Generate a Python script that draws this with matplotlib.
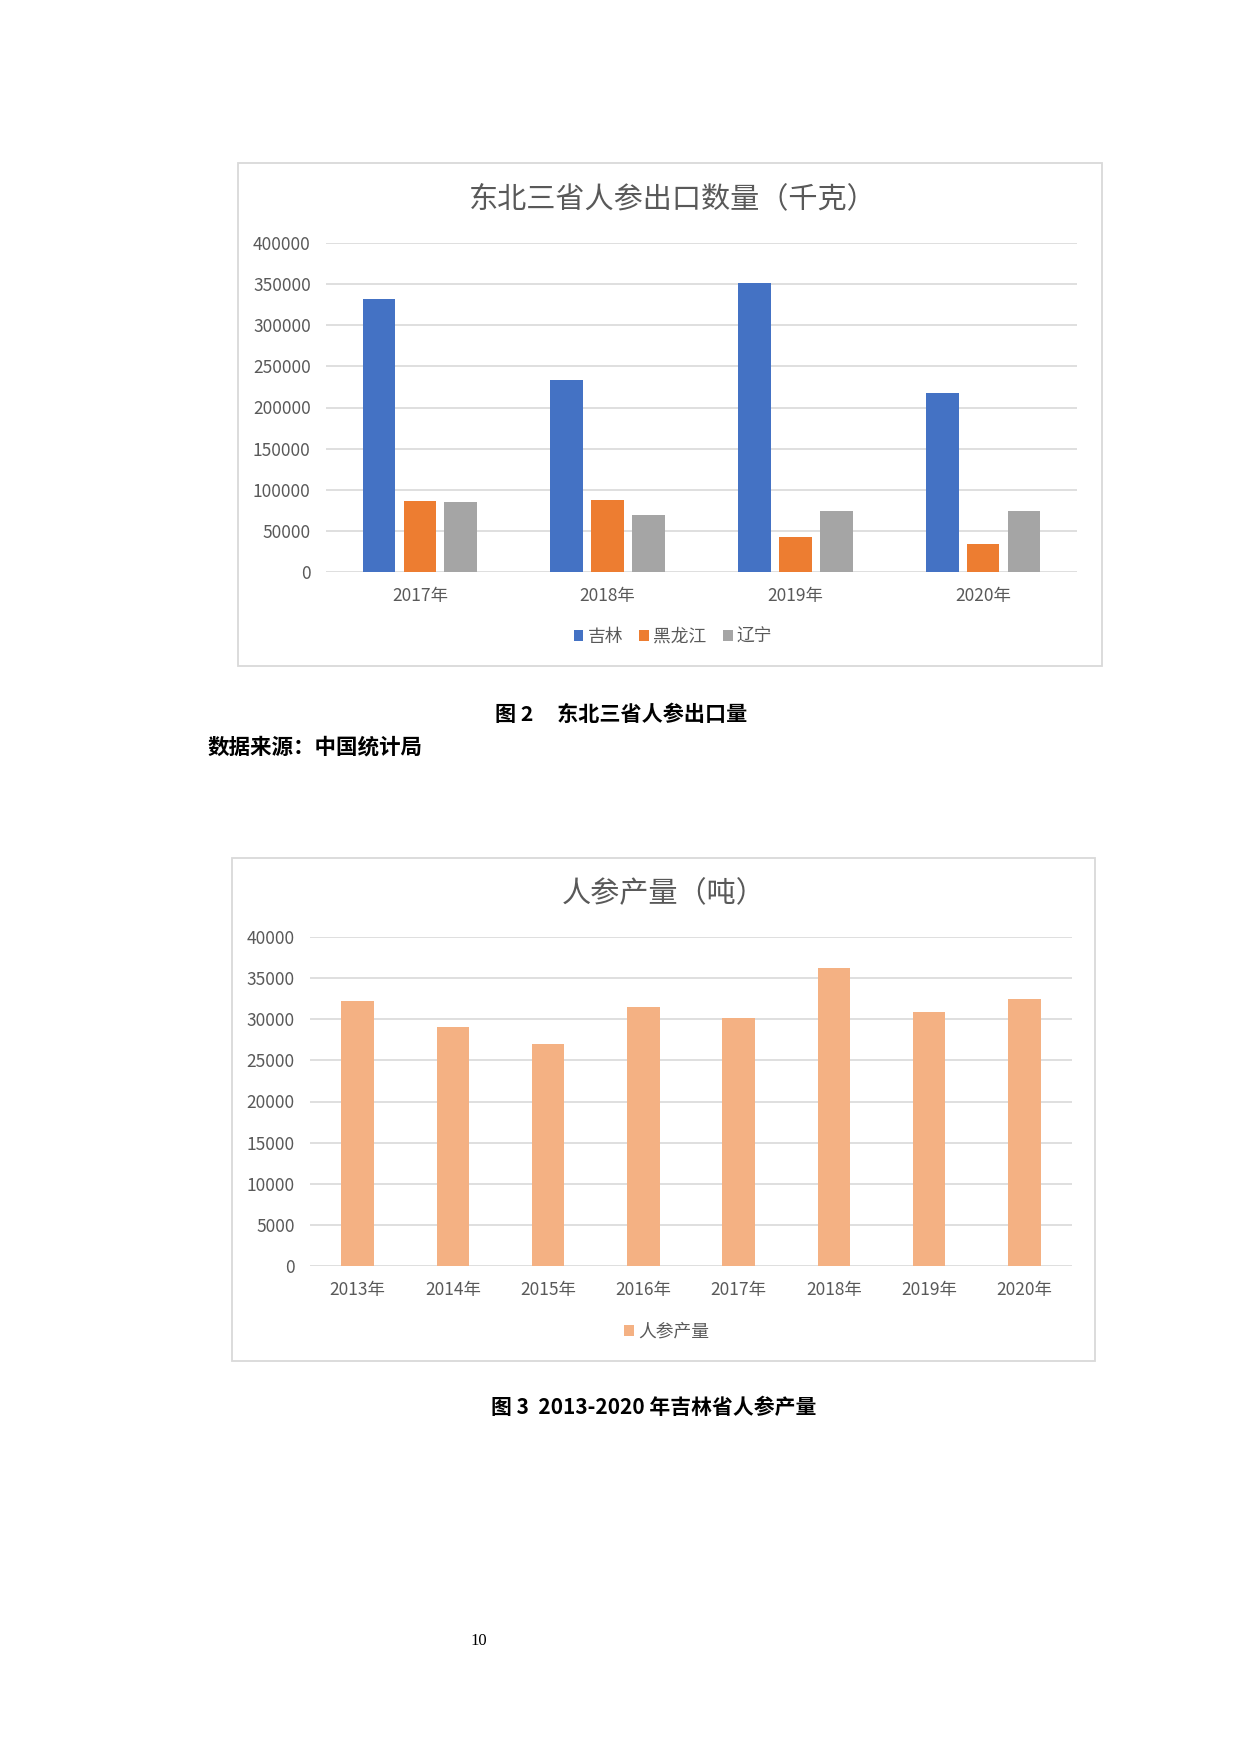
import matplotlib
matplotlib.use("Agg")
from matplotlib import pyplot as plt
from matplotlib.patches import Rectangle
import numpy as np

plt.rcParams['font.family'] = ['Noto Sans CJK SC', 'DejaVu Sans']

# chart 1 data: ginseng exports of the three north-east provinces (kg)
years_1 = ["2017年", "2018年", "2019年", "2020年"]
provinces = ["吉林", "黑龙江", "辽宁"]
jilin = [332000, 233000, 351000, 217500]
heilongjiang = [86000, 87000, 42000, 34000]
liaoning = [85000, 69000, 74000, 74000]
export_ticks = [0, 50000, 100000, 150000, 200000, 250000, 300000, 350000, 400000]

# chart 2 data: Jilin ginseng output (tonnes)
years_2 = ["2013年", "2014年", "2015年", "2016年", "2017年", "2018年", "2019年", "2020年"]
output = [32250, 29000, 27050, 31500, 30200, 36250, 30900, 32450]
output_ticks = [0, 5000, 10000, 15000, 20000, 25000, 30000, 35000, 40000]

W, H = 1240, 1754
fig = plt.figure(figsize=(12.4, 17.54), dpi=100)
text_color = "#595959"
grid_color = "#D9D9D9"


def fx(px):
    return px / W


def fy(py):
    return 1 - py / H


def chart_box(x0, y0, x1, y1):
    fig.add_artist(Rectangle((fx(x0), fy(y1)), fx(x1 - x0), (y1 - y0) / H,
                             transform=fig.transFigure, fill=False,
                             edgecolor=grid_color, linewidth=1.3))


def style_axes(ax, ticks):
    ax.set_ylim(ticks[0], ticks[-1])
    ax.set_yticks(ticks)
    ax.set_yticklabels([str(t) for t in ticks])
    for s in ax.spines.values():
        s.set_visible(False)
    ax.tick_params(axis="both", length=0, labelsize=12.5, colors=text_color)
    ax.tick_params(axis="y", pad=11)
    ax.tick_params(axis="x", pad=11)
    ax.yaxis.grid(True, color=grid_color, linewidth=1.2)
    ax.set_axisbelow(True)


# ---------- chart 1 ----------
chart_box(238, 163, 1102, 666)
ax1 = fig.add_axes([fx(326), fy(572), fx(1077 - 326), (572 - 243) / H])
x = np.arange(len(years_1))
w = 0.174
step = 0.218
colors_1 = ["#4472C4", "#ED7D31", "#A5A5A5"]
for i, (vals, name) in enumerate(zip([jilin, heilongjiang, liaoning], provinces)):
    ax1.bar(x + (i - 1) * step, vals, width=w, color=colors_1[i], label=name)
ax1.set_xlim(-0.5, len(years_1) - 0.5)
ax1.set_xticks(x)
ax1.set_xticklabels(years_1)
style_axes(ax1, export_ticks)
ax1.legend(loc="center", bbox_to_anchor=(fx(673), fy(637)), bbox_transform=fig.transFigure,
           ncol=3, frameon=False, fontsize=12.8, handlelength=0.55, handleheight=0.55,
           handletextpad=0.25, columnspacing=0.9, labelcolor=text_color)
fig.text(fx(673), fy(199), "东北三省人参出口数量（千克）", ha="center", va="center",
         fontsize=21, color=text_color)

fig.text(fx(621), fy(714), "图 2     东北三省人参出口量", ha="center", va="center",
         fontsize=15.2, fontweight="bold", color="black")
fig.text(fx(208), fy(747), "数据来源：中国统计局", ha="left", va="center",
         fontsize=15.5, fontweight="bold", color="black")

# ---------- chart 2 ----------
chart_box(232, 858, 1095, 1361)
ax2 = fig.add_axes([fx(310), fy(1266), fx(1072 - 310), (1266 - 937) / H])
x2 = np.arange(len(years_2))
ax2.bar(x2, output, width=0.34, color="#F4B183", label="人参产量")
ax2.set_xlim(-0.5, len(years_2) - 0.5)
ax2.set_xticks(x2)
ax2.set_xticklabels(years_2)
style_axes(ax2, output_ticks)
ax2.legend(loc="center", bbox_to_anchor=(fx(667), fy(1332)), bbox_transform=fig.transFigure,
           ncol=1, frameon=False, fontsize=12.8, handlelength=0.55, handleheight=0.55,
           handletextpad=0.25, labelcolor=text_color)
fig.text(fx(664), fy(894), "人参产量（吨）", ha="center", va="center",
         fontsize=21, color=text_color)

fig.text(fx(654), fy(1407), "图 3  2013-2020 年吉林省人参产量", ha="center", va="center",
         fontsize=15, fontweight="bold", color="black")

fig.text(fx(479), fy(1641), "10", ha="center", va="center",
         fontsize=12, family="Liberation Serif", color="black")

fig.savefig("out.png", dpi=100)
